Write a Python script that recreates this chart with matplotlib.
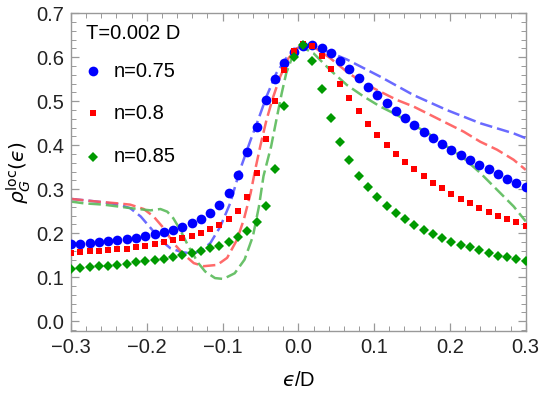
import numpy as np
import matplotlib
matplotlib.use("Agg")
import matplotlib.pyplot as plt
from matplotlib.ticker import MultipleLocator

plt.rcParams['font.family'] = ['Liberation Sans', 'DejaVu Sans']
plt.rcParams['mathtext.fontset'] = 'dejavusans'
plt.rcParams['lines.scale_dashes'] = False

# grid of the marker data (50 points from -0.3 to 0.3)
x_pts = np.linspace(-0.3, 0.3, 50)

# markers
rho_075 = [0.175, 0.176, 0.178, 0.181, 0.182, 0.184, 0.186, 0.190, 0.193, 0.198,
           0.203, 0.207, 0.214, 0.223, 0.232, 0.246, 0.264, 0.292, 0.333, 0.384,
           0.442, 0.502, 0.551, 0.588, 0.613, 0.626, 0.628, 0.620, 0.609, 0.591,
           0.573, 0.552, 0.533, 0.514, 0.495, 0.477, 0.461, 0.446, 0.431, 0.416,
           0.402, 0.390, 0.377, 0.366, 0.355, 0.346, 0.334, 0.324, 0.314, 0.304]
rho_080 = [0.154, 0.157, 0.159, 0.160, 0.162, 0.164, 0.165, 0.169, 0.172, 0.176,
           0.181, 0.185, 0.189, 0.194, 0.200, 0.209, 0.218, 0.232, 0.251, 0.282,
           0.337, 0.414, 0.500, 0.571, 0.615, 0.630, 0.626, 0.603, 0.573, 0.539,
           0.507, 0.477, 0.448, 0.423, 0.400, 0.380, 0.362, 0.346, 0.330, 0.314,
           0.302, 0.290, 0.278, 0.269, 0.257, 0.249, 0.239, 0.232, 0.225, 0.216]
rho_085 = [0.119, 0.122, 0.123, 0.125, 0.126, 0.128, 0.130, 0.134, 0.137, 0.139,
           0.141, 0.146, 0.150, 0.155, 0.160, 0.166, 0.172, 0.179, 0.191, 0.206,
           0.225, 0.263, 0.347, 0.490, 0.600, 0.627, 0.591, 0.527, 0.462, 0.408,
           0.366, 0.331, 0.305, 0.282, 0.261, 0.246, 0.232, 0.218, 0.207, 0.198,
           0.188, 0.181, 0.174, 0.168, 0.161, 0.154, 0.149, 0.145, 0.141, 0.136]

# dashed curves
xd_075 = [-0.300, -0.266, -0.239, -0.222, -0.208, -0.195, -0.182, -0.169, -0.154, -0.140,
          -0.128, -0.116, -0.103, -0.090, -0.077, -0.063, -0.053, -0.042, -0.029, -0.016,
          -0.002, 0.010, 0.020, 0.040, 0.064, 0.108, 0.152, 0.196, 0.240, 0.284, 0.300]
yd_075 = [0.278, 0.272, 0.266, 0.257, 0.238, 0.212, 0.185, 0.166, 0.157, 0.154,
          0.160, 0.178, 0.215, 0.268, 0.344, 0.412, 0.458, 0.511, 0.564, 0.598,
          0.620, 0.628, 0.626, 0.612, 0.595, 0.556, 0.514, 0.480, 0.450, 0.427, 0.416]
xd_080 = [-0.300, -0.266, -0.239, -0.222, -0.204, -0.191, -0.178, -0.165, -0.152, -0.138,
          -0.125, -0.107, -0.094, -0.081, -0.072, -0.063, -0.057, -0.050, -0.042, -0.033,
          -0.024, -0.013, -0.002, 0.010, 0.020, 0.042, 0.064, 0.086, 0.108, 0.130,
          0.152, 0.174, 0.196, 0.218, 0.240, 0.262, 0.284, 0.300]
yd_080 = [0.278, 0.272, 0.268, 0.265, 0.255, 0.238, 0.212, 0.178, 0.153, 0.132,
          0.125, 0.128, 0.144, 0.185, 0.231, 0.291, 0.344, 0.400, 0.458, 0.511,
          0.556, 0.598, 0.620, 0.630, 0.624, 0.598, 0.567, 0.541, 0.522, 0.503,
          0.488, 0.469, 0.450, 0.431, 0.408, 0.390, 0.367, 0.344]
xd_085 = [-0.300, -0.283, -0.257, -0.230, -0.212, -0.195, -0.182, -0.173, -0.165, -0.156,
          -0.145, -0.132, -0.123, -0.110, -0.099, -0.084, -0.071, -0.060, -0.052, -0.046,
          -0.036, -0.029, -0.022, -0.016, -0.007, 0.003, 0.020, 0.042, 0.064, 0.086,
          0.108, 0.130, 0.152, 0.174, 0.196, 0.218, 0.240, 0.262, 0.284, 0.300]
yd_085 = [0.272, 0.268, 0.265, 0.259, 0.255, 0.252, 0.255, 0.249, 0.234, 0.208,
          0.170, 0.132, 0.113, 0.098, 0.096, 0.109, 0.140, 0.193, 0.261, 0.330,
          0.397, 0.458, 0.518, 0.564, 0.605, 0.625, 0.609, 0.571, 0.537, 0.511,
          0.488, 0.469, 0.446, 0.424, 0.397, 0.371, 0.337, 0.299, 0.261, 0.227]

labels = ["n=0.75", "n=0.8", "n=0.85"]
title = "T=0.002 D"

fig = plt.figure(figsize=(5.42, 4.03), dpi=100)
ax = fig.add_axes([0.131, 0.179, 0.839, 0.788])

dash = (9, 3.6)
ax.plot(xd_075, yd_075, color='#5a5aff', alpha=0.9, lw=1.8, dashes=dash, zorder=2)
ax.plot(xd_080, yd_080, color='#ff5a5a', alpha=0.9, lw=1.8, dashes=dash, zorder=2)
ax.plot(xd_085, yd_085, color='#5abb5a', alpha=0.9, lw=1.8, dashes=dash, zorder=2)

ax.plot(x_pts, rho_075, 'o', color='#0000ff', ms=7.0, mew=0, zorder=3)
ax.plot(x_pts, rho_080, 's', color='#ff0000', ms=5.0, mew=0, zorder=3)
ax.plot(x_pts, rho_085, 'D', color='#009a00', ms=4.8, mew=0, zorder=3)

# legend, drawn by hand like the original
ax.text(0.033, 0.937, title, transform=ax.transAxes, fontsize=14.5, va='center', ha='left')
mk = [('o', '#0000ff', 7.0), ('s', '#ff0000', 5.0), ('D', '#009a00', 4.8)]
ys = [0.818, 0.685, 0.548]
for (m, c, s), yy, lab in zip(mk, ys, labels):
    ax.plot([0.049], [yy], m, color=c, ms=s, mew=0, transform=ax.transAxes)
    ax.text(0.093, yy, lab, transform=ax.transAxes, fontsize=14.5, va='center', ha='left')

ax.set_xlim(-0.3, 0.3)
ax.set_ylim(-0.022, 0.70)
ax.set_xticks([-0.3, -0.2, -0.1, 0.0, 0.1, 0.2, 0.3])
ax.set_xticklabels(['\u22120.3', '\u22120.2', '\u22120.1', '0.0', '0.1', '0.2', '0.3'])
ax.set_yticks([0.0, 0.1, 0.2, 0.3, 0.4, 0.5, 0.6, 0.7])
ax.set_yticklabels(['0.0', '0.1', '0.2', '0.3', '0.4', '0.5', '0.6', '0.7'])
ax.xaxis.set_minor_locator(MultipleLocator(0.02))
ax.yaxis.set_minor_locator(MultipleLocator(0.02))
ax.tick_params(which='both', direction='in', top=True, right=True, color='#999999',
               labelsize=14.5, labelcolor='#222222')
ax.tick_params(which='major', length=6, width=0.9, pad=5)
ax.tick_params(which='minor', length=3.5, width=0.7)
for sp in ax.spines.values():
    sp.set_color('#999999')
    sp.set_linewidth(1.0)

ax.set_xlabel('$\u03f5$/D', fontsize=14.5, labelpad=10)
ax.set_ylabel('$\\rho_G^{\\mathrm{loc}}(\u03f5)$', fontsize=14.5, labelpad=2)

fig.savefig('out.png', dpi=100)
